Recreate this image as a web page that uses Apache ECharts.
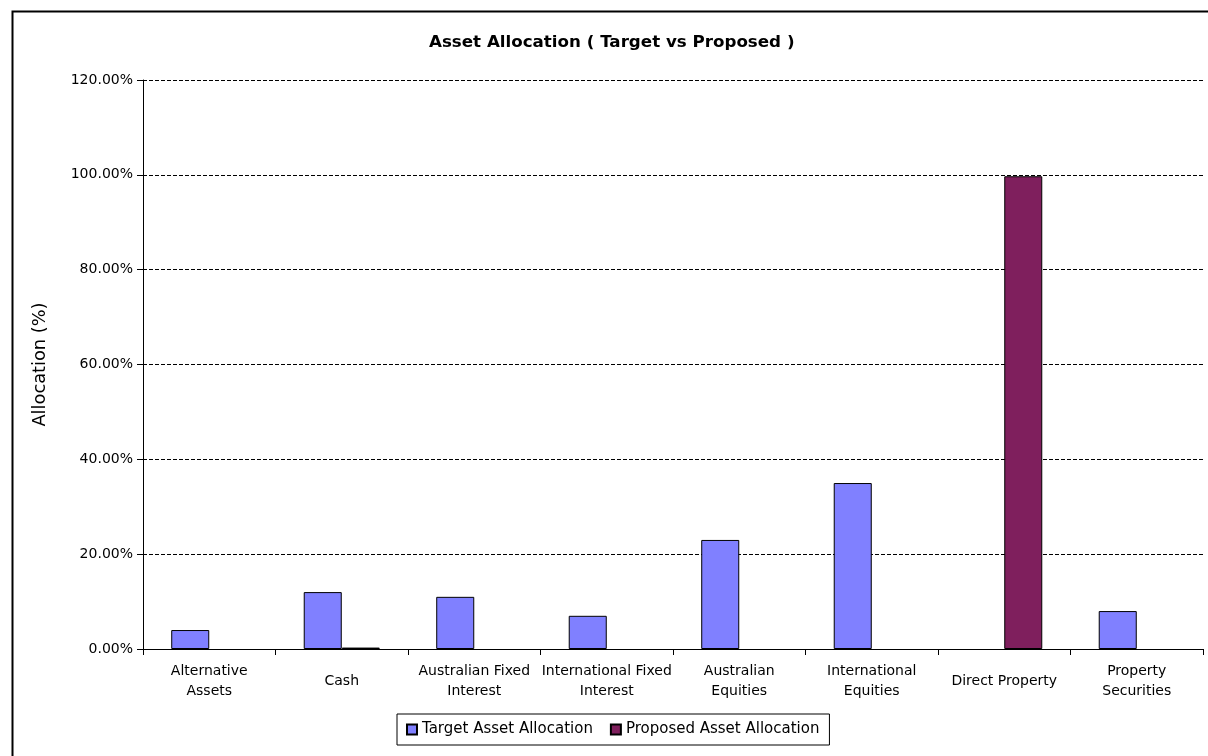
<!DOCTYPE html>
<html>
<head>
<meta charset="utf-8">
<script src="https://cdn.jsdelivr.net/npm/echarts@6/dist/echarts.min.js"></script>
<style>
html,body{margin:0;padding:0;background:#fff;}
#chart{width:1208px;height:756px;}
</style>
</head>
<body>
<div id="chart"></div>
<script>
const categories = ['Alternative\nAssets', 'Cash', 'Australian Fixed\nInterest', 'International Fixed\nInterest', 'Australian\nEquities', 'International\nEquities', 'Direct Property', 'Property\nSecurities'];
const targetValues = [4, 12, 11, 7, 23, 35, 0, 8];
const proposedValues = [0, 0.3, 0, 0, 0, 0, 99.7, 0];
const yTicks = [0, 20, 40, 60, 80, 100, 120];

const chart = echarts.init(document.getElementById('chart'));
const font = 'DejaVu Sans, Verdana, sans-serif';
const toData = arr => arr.map(v => v === 0 ? { value: 0, itemStyle: { borderWidth: 0 } } : v);
chart.setOption({
  animation: false,
  backgroundColor: '#fff',
  graphic: [{
    type: 'rect', left: 10, top: 9, z: 100, silent: true,
    shape: { width: 1300, height: 800 },
    style: { fill: 'none', stroke: '#000', lineWidth: 2 }
  }],
  title: {
    text: 'Asset Allocation ( Target vs Proposed )',
    left: 424, top: 29,
    textStyle: { fontFamily: font, fontSize: 16.7, fontWeight: 'bold', color: '#000' }
  },
  legend: {
    left: 397, top: 714,
    padding: [8, 10, 8, 9],
    borderColor: '#000', borderWidth: 1,
    itemWidth: 10, itemHeight: 10, itemGap: 17,
    icon: 'rect',
    textStyle: { fontFamily: font, fontSize: 15, color: '#000' },
    data: ['Target Asset Allocation', 'Proposed Asset Allocation']
  },
  grid: { left: 143, right: 5, top: 80, bottom: 107, containLabel: false },
  xAxis: {
    type: 'category',
    data: categories,
    axisLine: { lineStyle: { color: '#000', width: 1 } },
    axisTick: { show: true, length: 6, lineStyle: { color: '#000' } },
    axisLabel: {
      interval: 0, margin: 32, verticalAlign: 'middle', lineHeight: 20,
      fontFamily: font, fontSize: 14, color: '#000'
    }
  },
  yAxis: {
    type: 'value',
    min: 0, max: 120, interval: 20,
    name: 'Allocation (%)',
    nameLocation: 'middle', nameGap: 94, nameRotate: 90,
    nameTextStyle: { fontFamily: font, fontSize: 17.8, color: '#000' },
    axisLine: { show: true, lineStyle: { color: '#000' } },
    axisTick: { show: true, length: 6, lineStyle: { color: '#000' } },
    axisLabel: {
      margin: 10, fontFamily: font, fontSize: 14, color: '#000',
      formatter: v => v.toFixed(2) + '%'
    },
    splitLine: { show: true, lineStyle: { color: '#000', type: [4, 2], width: 1 } }
  },
  series: [
    {
      name: 'Target Asset Allocation', type: 'bar', data: toData(targetValues),
      barGap: '0%', barCategoryGap: '42.6%',
      itemStyle: { color: '#8080FF', borderColor: '#000', borderWidth: 1 }
    },
    {
      name: 'Proposed Asset Allocation', type: 'bar', data: toData(proposedValues),
      itemStyle: { color: '#7F1F5D', borderColor: '#000', borderWidth: 1 }
    }
  ]
});
</script>
</body>
</html>
